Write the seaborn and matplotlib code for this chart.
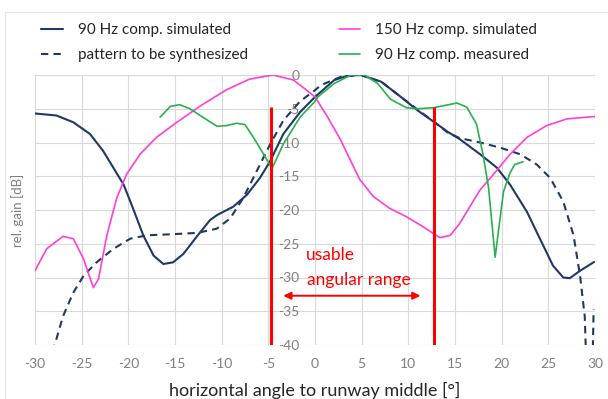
import matplotlib
matplotlib.use("Agg")
import matplotlib.pyplot as plt
import seaborn as sns
import pandas as pd
from matplotlib.patches import Rectangle

# ---------------- data ----------------
sim90_x = [-30, -27.7, -25.9, -24.1, -22.7, -21.6, -20.5, -19.5, -18.4, -17.3, -16.25, -15.2, -14.1,
           -12.7, -11.25, -10.5, -8.75, -7.3, -5.9, -4.8, -3.4, -1.6, 0, 2.07, 3.5, 4.9, 7.1, 9.2,
           11, 12.8, 14.2, 15.5, 17.7, 19.5, 20.9, 22.7, 24.1, 25.5, 26.6, 27.3, 28.4, 29.9]
sim90_y = [-5.7, -6, -7, -8.75, -11.25, -13.75, -16.25, -19.75, -23.75, -26.75, -28, -27.75, -26.5,
           -24, -21.5, -20.75, -19.5, -17.75, -15.25, -12.75, -8.75, -5.5, -3.25, -0.75, -0.1, 0,
           -1, -3.25, -5.25, -7, -8.4, -9.5, -11.75, -13.75, -16.25, -20.25, -24.25, -28.25, -30.0,
           -30.1, -29, -27.7]

synth_x = [-28.1, -27, -25.9, -24.8, -23.4, -21.6, -19.8, -18, -15.5, -12.7, -11.25, -10.5, -9.1,
           -7.7, -6.25, -4.8, -3.4, -1.6, 0, 0.64, 2.8, 4.9, 7.1, 9.2, 12.8, 14.2, 15.5, 17.7, 19.8,
           22, 23.75, 25.2, 26.6, 27.7, 28.4, 28.9, 29.05, 29.75, 29.85]
synth_y = [-41, -35.75, -32.25, -29.75, -27.75, -25.75, -24.25, -23.75, -23.6, -23.4, -23, -22.75,
           -21.25, -18.25, -14.25, -10.25, -6.75, -3.9, -2.25, -1.5, -0.25, 0, -1, -3.25, -7, -8.5,
           -9.35, -10, -10.75, -11.75, -13.25, -15.25, -18.75, -23.75, -29.75, -35.75, -42, -42,
           -34.75]

sim150_x = [-30, -28.75, -27, -25.9, -24.8, -23.75, -23.2, -22.3, -21.25, -20.2, -18.75, -17, -14.8,
            -12.3, -9.5, -7, -4.5, -2.3, -0.9, 0, 1.36, 2.7, 3.75, 4.8, 6.25, 8.0, 9.8, 11.6, 12.7,
            13.4, 14.5, 15.5, 16.6, 17.7, 19.1, 20.9, 22.7, 24.8, 27, 30]
sim150_y = [-29, -25.75, -23.9, -24.25, -27.25, -31.5, -30.25, -23.75, -18.25, -14.75, -11.75, -9.25,
            -7, -4.6, -2.2, -0.6, 0, -0.75, -2.25, -3.25, -6.25, -9.5, -12.5, -15.5, -18, -19.75,
            -21, -22.5, -23.5, -24.1, -23.75, -22, -19.5, -17, -14.75, -11.75, -9.25, -7.5, -6.5,
            -6.15]

meas90_x = [-16.6, -15.5, -14.5, -13.4, -12.3, -10.5, -9.5, -8.4, -7.5, -6.6, -5.5, -4.6, -3.4,
            -1.6, 0, 0.3, 2.07, 3.86, 5.3, 6.7, 8.1, 9.8, 11, 12.7, 15.2, 16.25, 17.3, 18, 18.6,
            19.3, 20.2, 20.9, 21.4, 22.3]
meas90_y = [-6.25, -4.65, -4.4, -5, -6, -7.6, -7.5, -7.15, -7.35, -9.25, -11.75, -13.85, -10.25,
            -6.25, -3.9, -3.25, -1.25, 0, 0, -1.25, -3.6, -4.85, -5.0, -4.85, -4.15, -4.75, -7.25,
            -11.75, -16.75, -27, -17.25, -14.5, -13.25, -12.85]

range_limits = [-4.75, 12.8]
range_top = -4.75
arrow_ends = [-3.4, 11.3]
arrow_level = -32.7

x_ticks = list(range(-30, 31, 5))
y_ticks = list(range(-40, 1, 5))

# ---------------- styling ----------------
NAVY = "#203864"
MAGENTA = "#FF3FD8"
GREEN = "#27B24C"
RED = "#FF0000"
GRAYTXT = "#7f7f7f"

sns.set_style("white")
plt.rcParams["font.family"] = ["Lato", "DejaVu Sans"]

fig = plt.figure(figsize=(6.08, 3.99), dpi=100)
ax = fig.add_axes([35 / 608, 1 - 345 / 399, 560 / 608, 270 / 399])

fig.patches.append(Rectangle((5 / 608, 0), 1, 1 - 12 / 399, transform=fig.transFigure,
                             fill=False, edgecolor="#e3e3e3", lw=0.8, zorder=-5))

df_sim90 = pd.DataFrame({"x": sim90_x, "y": sim90_y})
df_synth = pd.DataFrame({"x": synth_x, "y": synth_y})
df_sim150 = pd.DataFrame({"x": sim150_x, "y": sim150_y})
df_meas90 = pd.DataFrame({"x": meas90_x, "y": meas90_y})

sns.lineplot(data=df_sim90, x="x", y="y", sort=False, ax=ax, color=NAVY, lw=1.5,
             label="90 Hz comp. simulated")
sns.lineplot(data=df_synth, x="x", y="y", sort=False, ax=ax, color=NAVY, lw=1.5,
             label="pattern to be synthesized")
ax.lines[-1].set_dashes((3.5, 2.5))
sns.lineplot(data=df_sim150, x="x", y="y", sort=False, ax=ax, color=MAGENTA, lw=1.2,
             label="150 Hz comp. simulated")
sns.lineplot(data=df_meas90, x="x", y="y", sort=False, ax=ax, color=GREEN, lw=1.2,
             label="90 Hz comp. measured")

for xv in range_limits:
    ax.plot([xv, xv], [range_top, -40], color=RED, lw=2.2, solid_capstyle="butt", zorder=5)

ax.annotate("", xy=(arrow_ends[0], arrow_level), xytext=(arrow_ends[1], arrow_level),
            arrowprops=dict(arrowstyle="<|-|>", color=RED, lw=1.4, mutation_scale=11,
                            shrinkA=0, shrinkB=0), zorder=6)
ax.text(-1.0, -26.7, "usable", color=RED, fontsize=12.5, ha="left", va="center")
ax.text(-0.9, -30.3, "angular range", color=RED, fontsize=12.5, ha="left", va="center")

ax.set_xlim(-30, 30)
ax.set_ylim(-40, 0)
ax.set_xticks(x_ticks)
ax.set_yticks(y_ticks)
ax.set_xticklabels([str(v) for v in x_ticks])
ax.set_yticklabels([str(v) for v in y_ticks])
ax.grid(True, color="#d9d9d9", lw=0.8)
ax.set_axisbelow(True)
for s in ["top", "right", "bottom"]:
    ax.spines[s].set_visible(False)
ax.spines["left"].set_position(("data", 0))
ax.spines["left"].set_visible(False)
ax.tick_params(axis="y", length=0, pad=11, labelsize=10, labelcolor=GRAYTXT)
ax.tick_params(axis="x", length=0, pad=9, labelsize=10, labelcolor=GRAYTXT)

ax.set_xlabel("horizontal angle to runway middle [°]", fontsize=13, color="#262626", labelpad=9)
ax.set_ylabel("rel. gain [dB]", fontsize=9.5, color=GRAYTXT)
ax.yaxis.set_label_coords(-0.02, 0.5)

leg = ax.legend(loc="upper left", bbox_to_anchor=(0.0, 1.215), ncol=2, frameon=False,
                fontsize=11, handlelength=1.4, handletextpad=1.0, columnspacing=5.95,
                labelspacing=0.72, borderaxespad=0)
for t in leg.get_texts():
    t.set_color("#262626")

fig.savefig("out.png", dpi=100)
